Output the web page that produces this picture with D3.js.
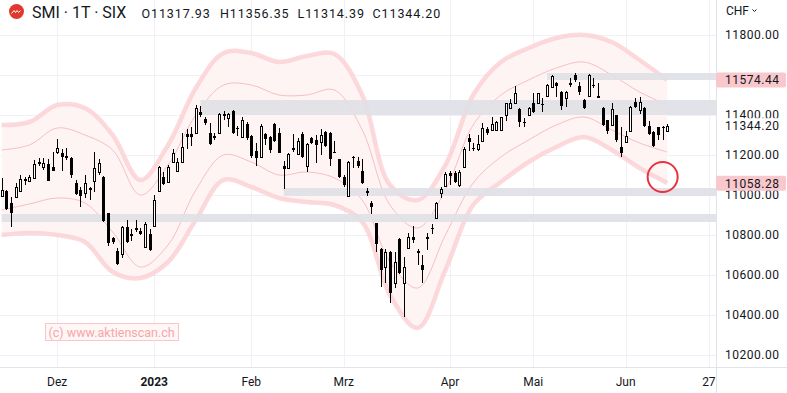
<!DOCTYPE html>
<html>
<head>
<meta charset="utf-8">
<script src="https://cdn.jsdelivr.net/npm/d3@7"></script>
<style>
  body { margin: 0; background: #fff; }
  svg { display: block; font-family: Roboto, "Noto Sans", sans-serif; }
</style>
</head>
<body>
<div id="chart"></div>
<script>
// Trading days (SIX), by month
const tradingDays = [
  ["2022-11", [15,16,17,18,21,22,23,24,25,28,29,30]],
  ["2022-12", [1,2,5,6,7,8,9,12,13,14,15,16,19,20,21,22,23,27,28,29,30]],
  ["2023-01", [3,4,5,6,9,10,11,12,13,16,17,18,19,20,23,24,25,26,27,30,31]],
  ["2023-02", [1,2,3,6,7,8,9,10,13,14,15,16,17,20,21,22,23,24,27,28]],
  ["2023-03", [1,2,3,6,7,8,9,10,13,14,15,16,17,20,21,22,23,24,27,28,29,30,31]],
  ["2023-04", [3,4,5,6,11,12,13,14,17,18,19,20,21,24,25,26,27,28]],
  ["2023-05", [2,3,4,5,8,9,10,11,12,15,16,17,19,22,23,24,25,26,30,31]],
  ["2023-06", [1,2,5,6,7,8,9,12,13,14]]
];
// days after the last candle, still on the time axis
const futureDays = ["2023-06", [15,16,19,20,21,22,23,26,27,28,29,30]];

const opens = [
  10995,11020,10960,10990,11020,11072,11070,11085,11160,11140,11155,11140,
  11212,11210,11195,11185,11060,11025,11010,11035,11070,11115,11090,10910,10785,10720,10705,10840,10798,10835,10820,10740,10805,
  10845,11020,11090,11065,11165,11120,11165,11305,11305,11310,11415,11380,11310,11295,11310,11400,11385,11420,11335,11290,11355,
  11295,11220,11190,11305,11290,11355,11310,11145,11135,11228,11205,11305,11145,11285,11275,11265,11315,11310,11215,11180,
  11090,10995,11192,11170,11120,11020,10960,10860,10730,10640,10715,10560,10780,10560,10735,10790,10720,10650,10790,10835,10885,11010,11045,
  11110,11110,11050,11140,11285,11235,11230,11270,11330,11325,11325,11325,11400,11435,11460,11430,11365,11400,
  11460,11460,11455,11495,11540,11560,11515,11485,11560,11600,11545,11475,11495,11550,11495,11435,11375,11350,11400,11240,
  11265,11320,11465,11425,11435,11345,11315,11340,11340,11317.93
];
const highs = [
  11085,11025,10990,11060,11100,11090,11100,11175,11185,11185,11180,11215,
  11278,11230,11235,11190,11075,11040,11100,11040,11215,11180,11095,10912,10790,10735,10845,10875,10830,10875,10835,10865,10830,
  11000,11145,11115,11150,11230,11185,11310,11330,11340,11450,11445,11390,11360,11310,11410,11420,11410,11425,11345,11390,11365,
  11300,11260,11355,11310,11295,11360,11335,11170,11210,11305,11285,11315,11260,11290,11300,11330,11320,11315,11270,11182,
  11100,11170,11195,11190,11180,11035,10970,10862,10735,10730,10718,10715,10785,10690,10810,10845,10730,10700,10810,10855,10965,11040,11115,
  11120,11120,11125,11240,11305,11260,11300,11360,11340,11390,11370,11392,11462,11480,11545,11435,11385,11440,
  11510,11512,11485,11555,11600,11565,11520,11520,11585,11610,11565,11478,11605,11585,11560,11440,11377,11460,11402,11340,
  11320,11445,11485,11490,11440,11370,11320,11342,11345,11356.35
];
const lows = [
  10990,10925,10840,10985,11015,11050,11065,11080,11145,11125,11070,11120,
  11205,11120,11175,11085,11000,10940,10985,10975,11015,11100,10865,10745,10755,10650,10685,10760,10770,10815,10800,10735,10720,
  10840,11015,11050,11060,11160,11115,11160,11230,11245,11305,11390,11350,11250,11275,11305,11375,11340,11305,11295,11285,11275,
  11185,11145,11185,11250,11210,11265,11210,11030,11130,11215,11200,11185,11115,11255,11160,11200,11240,11145,11210,11085,
  11040,10990,11135,11135,11055,10995,10905,10715,10540,10560,10460,10535,10605,10390,10730,10760,10650,10560,10725,10805,10880,10985,11040,
  11050,11060,11040,11135,11220,11222,11220,11265,11300,11320,11320,11320,11370,11430,11458,11340,11340,11395,
  11410,11455,11415,11490,11535,11490,11425,11440,11540,11565,11500,11432,11490,11535,11484,11345,11305,11345,11265,11190,
  11260,11318,11435,11405,11340,11300,11240,11275,11275,11314.39
];
const closes = [
  11025,10930,10910,11040,11080,11078,11090,11155,11165,11160,11070,11120,
  11233,11190,11185,11100,11005,10995,11060,11025,11135,11160,10870,10760,10765,10655,10840,10765,10802,10825,10805,10855,10725,
  10975,11140,11055,11140,11210,11165,11240,11290,11290,11435,11400,11360,11255,11285,11405,11405,11405,11310,11330,11375,11285,
  11195,11185,11345,11280,11225,11270,11210,11130,11205,11232,11270,11190,11255,11260,11250,11300,11245,11180,11212,11090,
  11050,11165,11188,11145,11060,11012,10940,10755,10625,10715,10510,10665,10610,10640,10790,10775,10710,10625,10780,10830,10960,11030,11105,
  11095,11065,11115,11230,11265,11228,11255,11335,11310,11355,11365,11390,11460,11460,11510,11365,11360,11435,
  11415,11510,11450,11550,11595,11545,11445,11515,11550,11575,11515,11435,11600,11545,11485,11350,11320,11430,11275,11210,
  11295,11440,11440,11465,11345,11305,11245,11300,11335,11344.20
];

// Price channel, read every 6th trading day
const bandIdx    = [0,6,12,18,24,30,36,42,48,54,60,66,72,78,84,90,96,102,108,114,120,126,132,138,144];
const outerUpper = [11350,11365,11450,11435,11300,11075,11250,11535,11710,11710,11665,11695,11705,11500,11050,10975,11150,11500,11665,11735,11785,11800,11765,11675,11575];
const innerUpper = [11225,11250,11335,11300,11225,11000,11150,11400,11550,11550,11500,11500,11525,11325,10950,10835,11025,11350,11500,11575,11635,11665,11600,11515,11450];
const innerLower = [10925,10955,10985,10960,10815,10640,10750,11025,11200,11165,11100,11115,11085,10975,10665,10535,10800,11060,11190,11275,11350,11390,11325,11260,11215];
const outerLower = [10800,10810,10800,10765,10615,10585,10665,10875,11075,11040,10985,10965,10950,10865,10500,10335,10625,10950,11065,11165,11240,11290,11225,11135,11060];

// Support / resistance zones: start date, low, high
const zoneStart = ["2023-05-05", "2023-01-17", "2023-02-10", "2022-11-15"];
const zoneLow   = [11575, 11400, 10995, 10865];
const zoneHigh  = [11610, 11475, 11035, 10905];

const priceTicks = [10200,10400,10600,10800,11000,11200,11400,11600,11800];
const timeTickDates  = ["2022-12-01","2023-01-03","2023-02-01","2023-03-01","2023-04-03","2023-05-02","2023-06-01","2023-06-27"];
const timeTickLabels = ["Dez","2023","Feb","Mrz","Apr","Mai","Jun","27"];

const markedLevels = [11574.44, 11058.28];
const lastPrice = 11344.20;
const circleDate = "2023-06-13", circlePrice = 11090;

// ---- build date index
const pad = d => String(d).padStart(2, "0");
const dates = [];
tradingDays.forEach(([m, days]) => days.forEach(d => dates.push(m + "-" + pad(d))));
const axisDates = dates.concat(futureDays[1].map(d => futureDays[0] + "-" + pad(d)));
const idxOf = s => axisDates.indexOf(s);

const candles = dates.map((d, i) => ({ i, o: opens[i], h: highs[i], l: lows[i], c: closes[i] }));

const W = 787, H = 393;
const plotW = 716, plotH = 367;

const x = d3.scaleLinear().domain([-0.37, 154.54]).range([0, plotW]);
const y = d3.scaleLinear().domain([10140, 11975]).range([plotH, 0]);

const svg = d3.select("#chart").append("svg").attr("width", W).attr("height", H);

// grid
const grid = svg.append("g");
grid.selectAll(".hg").data(priceTicks).enter().append("line")
  .attr("x1", 0).attr("x2", plotW)
  .attr("y1", d => Math.round(y(d)) + 0.5).attr("y2", d => Math.round(y(d)) + 0.5)
  .attr("stroke", "#f0f1f4");
grid.selectAll(".vg").data(timeTickDates).enter().append("line")
  .attr("x1", d => Math.round(x(idxOf(d))) + 0.5).attr("x2", d => Math.round(x(idxOf(d))) + 0.5)
  .attr("y1", 0).attr("y2", plotH)
  .attr("stroke", "#f0f1f4");

// price channel
const band = bandIdx.map((b, k) => ({ i: b, ou: outerUpper[k], iu: innerUpper[k], il: innerLower[k], ol: outerLower[k] }));
const curve = d3.curveCatmullRom;
svg.append("path").datum(band)
  .attr("d", d3.area().curve(curve).x(d => x(d.i)).y0(d => y(d.ol)).y1(d => y(d.ou)))
  .attr("fill", "#fff4f4");
["ou", "ol"].forEach(k => {
  svg.append("path").datum(band)
    .attr("d", d3.line().curve(curve).x(d => x(d.i)).y(d => y(d[k])))
    .attr("fill", "none").attr("stroke", "#fbd0d3").attr("stroke-opacity", 0.8)
    .attr("stroke-width", 4.5).attr("stroke-linejoin", "round");
});
["iu", "il"].forEach(k => {
  svg.append("path").datum(band)
    .attr("d", d3.line().curve(curve).x(d => x(d.i)).y(d => y(d[k])))
    .attr("fill", "none").attr("stroke", "#f7bec2").attr("stroke-width", 1);
});

// zones
svg.selectAll(".zone").data(zoneStart).enter().append("rect")
  .attr("x", d => x(idxOf(d)))
  .attr("width", d => plotW - x(idxOf(d)))
  .attr("y", (d, k) => y(zoneHigh[k]))
  .attr("height", (d, k) => y(zoneLow[k]) - y(zoneHigh[k]))
  .attr("fill", "#dfe0e5").attr("opacity", 0.9);

// candles
const cg = svg.append("g").attr("shape-rendering", "crispEdges");
const cx = d => Math.round(x(d.i));
cg.selectAll(".wick").data(candles).enter().append("line")
  .attr("x1", d => cx(d) + 0.5).attr("x2", d => cx(d) + 0.5)
  .attr("y1", d => y(d.h)).attr("y2", d => y(d.l))
  .attr("stroke", "#000");
cg.selectAll(".body").data(candles).enter().append("rect")
  .attr("x", d => d.c >= d.o ? cx(d) - 0.5 : cx(d) - 1)
  .attr("width", d => d.c >= d.o ? 2 : 3)
  .attr("y", d => y(Math.max(d.o, d.c)))
  .attr("height", d => Math.max(1, y(Math.min(d.o, d.c)) - y(Math.max(d.o, d.c))))
  .attr("fill", d => d.c >= d.o ? "#fff" : "#000")
  .attr("stroke", d => d.c >= d.o ? "#000" : "none");

// marker circle
svg.append("circle")
  .attr("cx", x(idxOf(circleDate))).attr("cy", y(circlePrice)).attr("r", 15)
  .attr("fill", "none").attr("stroke", "#e8333f").attr("stroke-width", 2);

// watermark
svg.append("rect").attr("x", 45.5).attr("y", 323.5).attr("width", 133).attr("height", 17)
  .attr("fill", "#fff6f6").attr("stroke", "#fbc6c9");
svg.append("text").attr("x", 48.5).attr("y", 336.5)
  .attr("font-size", 12.5).attr("fill", "#f6a6ab").text("(c) www.aktienscan.ch");

// axes frame
svg.append("line").attr("x1", plotW + 0.5).attr("x2", plotW + 0.5).attr("y1", 0).attr("y2", H)
  .attr("stroke", "#e0e3eb");
svg.append("line").attr("x1", 0).attr("x2", W).attr("y1", plotH + 0.5).attr("y2", plotH + 0.5)
  .attr("stroke", "#e0e3eb");

// price axis (ticks hidden under a marked label are left out)
const fmt = d3.format(".2f");
const visibleTicks = priceTicks.filter(t => markedLevels.every(v => Math.abs(y(t) - y(v)) > 8));
svg.append("g").selectAll("text").data(visibleTicks).enter().append("text")
  .attr("x", 725).attr("y", d => y(d) + 4.3)
  .attr("font-size", 12).attr("letter-spacing", 0.5).attr("fill", "#131722")
  .text(d => fmt(d));

svg.append("rect").attr("x", plotW + 1).attr("y", y(lastPrice) - 8).attr("width", W - plotW).attr("height", 16)
  .attr("fill", "#fff");
svg.append("text").attr("x", 725).attr("y", y(lastPrice) + 4.3)
  .attr("font-size", 12).attr("letter-spacing", 0.5).attr("fill", "#131722")
  .text(fmt(lastPrice));

markedLevels.forEach(v => {
  svg.append("rect").attr("x", plotW).attr("y", y(v) - 7.5).attr("width", 70).attr("height", 15)
    .attr("rx", 2).attr("fill", "#f9c8cc");
  svg.append("text").attr("x", 725).attr("y", y(v) + 4.3)
    .attr("font-size", 12).attr("letter-spacing", 0.5).attr("fill", "#131722")
    .text(fmt(v));
});

svg.append("text").attr("x", 726).attr("y", 14.5).attr("font-size", 12).attr("fill", "#131722").text("CHF");
svg.append("path").attr("d", "M752.5,9.5 l2,2 l2,-2").attr("fill", "none").attr("stroke", "#131722").attr("stroke-width", 1);

// time axis
svg.append("g").selectAll("text").data(timeTickDates).enter().append("text")
  .attr("x", d => x(idxOf(d))).attr("y", 385.5)
  .attr("text-anchor", "middle").attr("font-size", 12)
  .attr("font-weight", (d, k) => timeTickLabels[k] === "2023" ? 700 : 400)
  .attr("fill", "#131722")
  .text((d, k) => timeTickLabels[k]);

// header
svg.append("circle").attr("cx", 16.5).attr("cy", 11.5).attr("r", 7.5).attr("fill", "#e1382e");
svg.append("path").attr("d", "M11.5,13.5 l2.5,-3 l1.5,2 l1.5,-2 l1.5,2 l2,-2")
  .attr("fill", "none").attr("stroke", "#fff").attr("stroke-width", 1);
svg.append("text").attr("x", 32).attr("y", 17.8).attr("font-size", 16).attr("fill", "#131722")
  .text("SMI · 1T · SIX");
const ohlcLabels = ["O", "H", "L", "C"];
const last = dates.length - 1;
const ohlcVals = [opens[last], highs[last], lows[last], closes[last]];
const ohlcX = [141.5, 220, 297.5, 372.5];
ohlcLabels.forEach((lab, k) => {
  svg.append("text").attr("x", ohlcX[k]).attr("y", 17.8)
    .attr("font-size", 12.5).attr("letter-spacing", 0.9).attr("fill", "#131722")
    .text(lab + fmt(ohlcVals[k]));
});
</script>
</body>
</html>
